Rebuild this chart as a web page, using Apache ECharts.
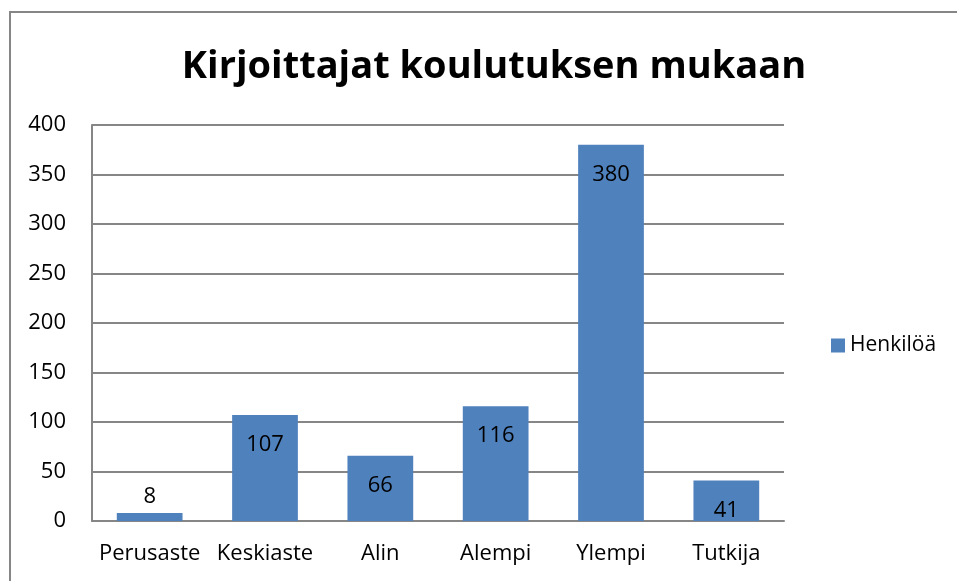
<!DOCTYPE html>
<html>
<head>
<meta charset="utf-8">
<script src="https://cdn.jsdelivr.net/npm/echarts@6/dist/echarts.min.js"></script>
<style>
  html, body { margin: 0; padding: 0; background: #fff; }
  #chart { width: 957px; height: 581px; }
</style>
</head>
<body>
<div id="chart"></div>
<script>
const categories = ['Perusaste', 'Keskiaste', 'Alin', 'Alempi', 'Ylempi', 'Tutkija']
const values = [8, 107, 66, 116, 380, 41]
const seriesName = 'Henkilöä'
const yTicks = { min: 0, max: 400, interval: 50 }

const font = 'Open Sans'

const chart = echarts.init(document.getElementById('chart'))

const option = {
  backgroundColor: '#fff',
  animation: false,
  textStyle: { fontFamily: font },
  // outer frame of the chart
  graphic: [
    {
      type: 'rect',
      shape: { x: 10, y: 12, width: 960, height: 600 },
      style: { fill: 'none', stroke: '#868686', lineWidth: 2 }
    }
  ],
  title: {
    text: 'Kirjoittajat koulutuksen mukaan',
    left: 489,
    top: 43,
    textAlign: 'center',
    textStyle: { fontFamily: font, fontSize: 38, fontWeight: 'bold', color: '#000' }
  },
  legend: {
    data: [seriesName],
    left: 826,
    top: 330,
    icon: 'rect',
    itemWidth: 14,
    itemHeight: 14,
    itemGap: 6,
    textStyle: { fontFamily: font, fontSize: 21, color: '#000' }
  },
  grid: {
    left: 92,
    top: 125,
    width: 692,
    height: 396,
    containLabel: false
  },
  xAxis: {
    type: 'category',
    data: categories,
    axisLine: { lineStyle: { color: '#868686', width: 2 } },
    axisTick: { show: false },
    axisLabel: { interval: 0, color: '#000', fontSize: 22, margin: 22, fontFamily: font }
  },
  yAxis: {
    type: 'value',
    min: yTicks.min,
    max: yTicks.max,
    interval: yTicks.interval,
    axisLine: { show: true, lineStyle: { color: '#868686', width: 2 } },
    axisTick: { show: false },
    splitLine: { lineStyle: { color: '#868686', width: 2 } },
    axisLabel: { color: '#000', fontSize: 22, margin: 26, fontFamily: font }
  },
  series: [
    {
      name: seriesName,
      type: 'bar',
      barWidth: '57%',
      itemStyle: { color: '#4F81BD' },
      label: {
        show: true,
        position: 'insideTop',
        distance: 19,
        color: '#000',
        fontSize: 22,
        fontFamily: font
      },
      data: values.map(v => v < 30
        ? { value: v, label: { position: 'top', distance: 5 } }
        : v)
    }
  ]
}

chart.setOption(option)
</script>
</body>
</html>
